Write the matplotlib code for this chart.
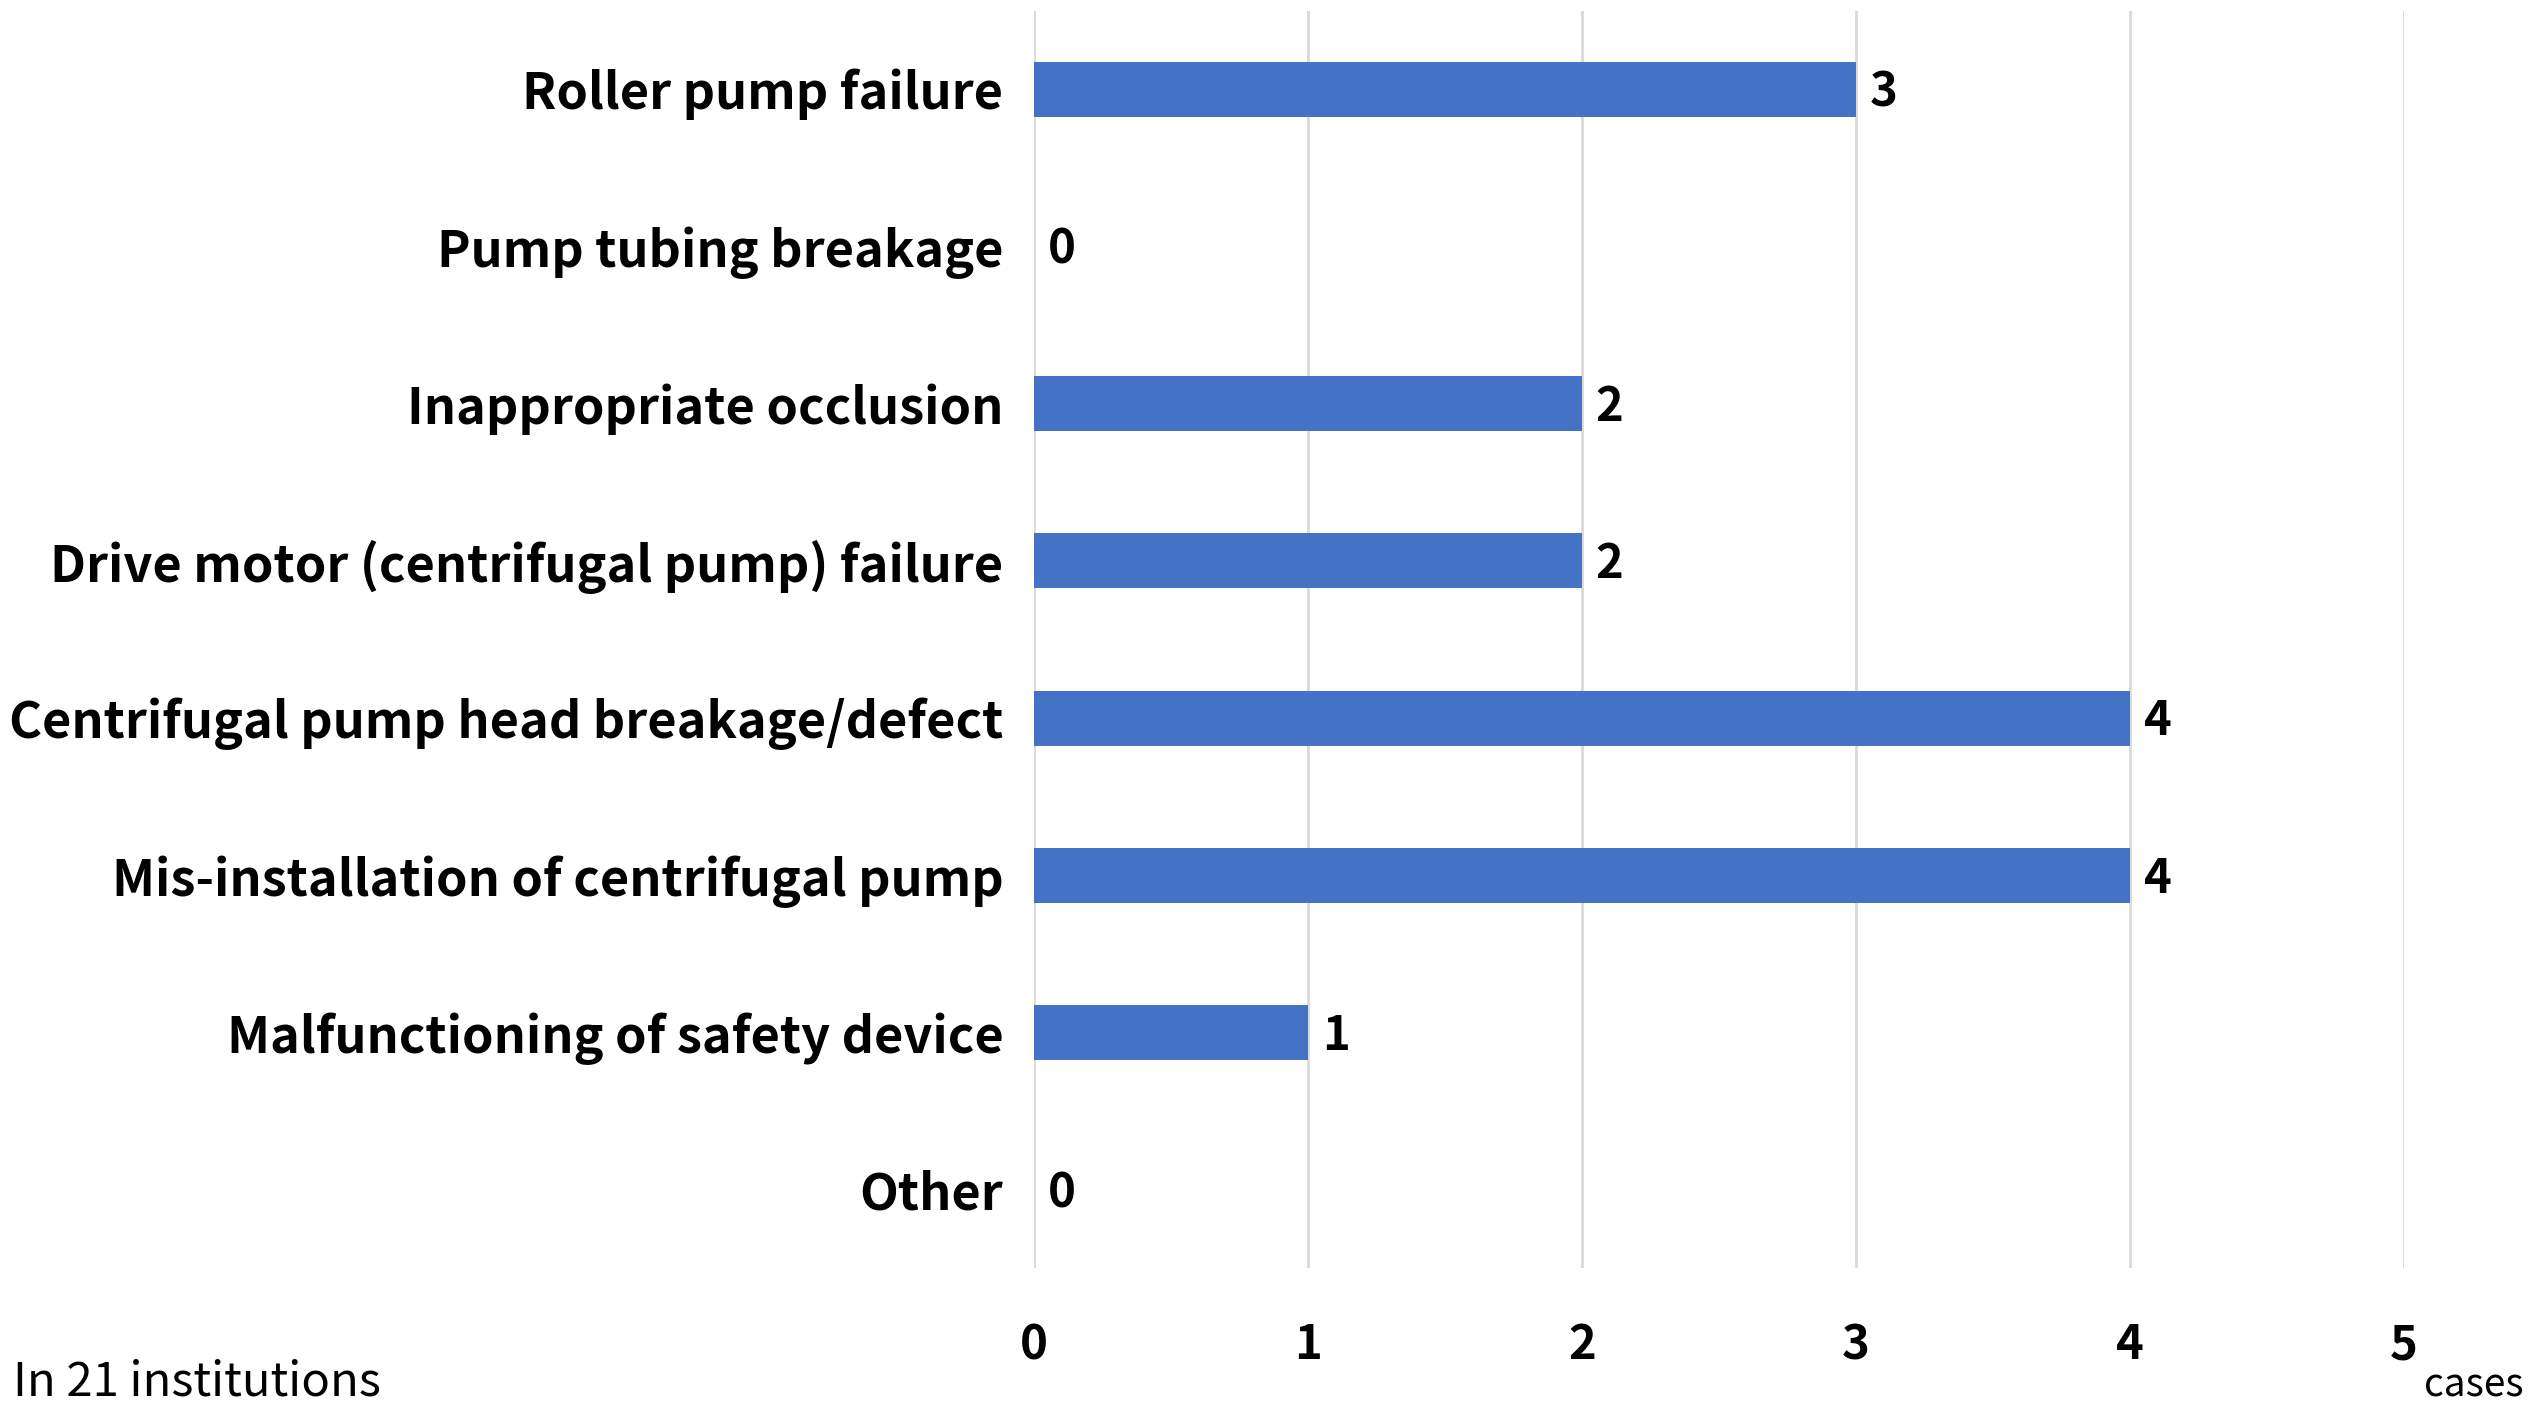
import matplotlib
matplotlib.use("Agg")
import matplotlib.pyplot as plt

plt.rcParams['font.family'] = ['Noto Sans CJK JP', 'DejaVu Sans']

categories = ["Roller pump failure",
              "Pump tubing breakage",
              "Inappropriate occlusion",
              "Drive motor (centrifugal pump) failure",
              "Centrifugal pump head breakage/defect",
              "Mis-installation of centrifugal pump",
              "Malfunctioning of safety device",
              "Other"]
cases = [3, 0, 2, 2, 4, 4, 1, 0]
x_ticks = [0, 1, 2, 3, 4, 5]

fig = plt.figure(figsize=(25.45, 14.11), dpi=100)
ax = fig.add_axes([0.4063, 0.1010, 0.5383, 0.8915])

pos = list(range(len(categories)))
ax.barh(pos, cases, height=0.35, color="#4472C4", zorder=3)

for y, v in zip(pos, cases):
    ax.text(v + 0.05, y + 0.02, str(v), va="center", ha="left",
            fontsize=34, fontweight="bold")

ax.set_ylim(len(categories) - 0.5, -0.5)
ax.set_xlim(0, 5)
ax.set_yticks(pos)
ax.set_yticklabels(categories, fontsize=36.3, fontweight="bold")
ax.set_xticks(x_ticks)
ax.set_xticklabels([str(t) for t in x_ticks], fontsize=34, fontweight="bold")
ax.tick_params(length=0, pad=22)
ax.tick_params(axis="x", pad=38)
ax.grid(axis="x", color="#d9d9d9", linewidth=2, zorder=0)
for s in ax.spines.values():
    s.set_visible(False)

fig.text(0.972, 0.004, "cases", ha="center", va="bottom", fontsize=28)
fig.text(0.005, 0.003, "In 21 institutions", ha="left", va="bottom", fontsize=34)

fig.savefig("out.png", dpi=100)
